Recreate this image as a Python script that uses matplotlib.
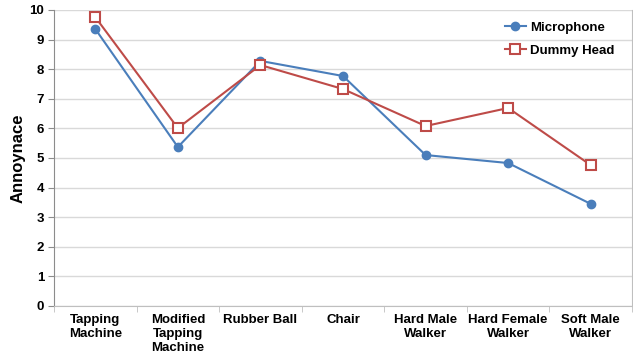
import matplotlib
matplotlib.use("Agg")
import matplotlib.pyplot as plt
import numpy as np

categories = ["Tapping\nMachine", "Modified\nTapping\nMachine", "Rubber Ball", "Chair",
              "Hard Male\nWalker", "Hard Female\nWalker", "Soft Male\nWalker"]
microphone = [9.36, 5.37, 8.28, 7.77, 5.10, 4.83, 3.45]
dummy_head = [9.76, 6.01, 8.14, 7.33, 6.08, 6.69, 4.76]
y_ticks = list(range(0, 11))

plt.rcParams["font.family"] = ["Liberation Sans", "DejaVu Sans"]
plt.rcParams["font.weight"] = "bold"

fig = plt.figure(figsize=(6.33, 3.54), dpi=100)
ax = fig.add_axes([54 / 633, 48 / 354, 578 / 633, 296 / 354])

x = np.arange(len(categories))
ax.plot(x, microphone, color="#4A7EBB", lw=1.5, marker="o", ms=6,
        mfc="#4A7EBB", mec="#4A7EBB", label="Microphone", zorder=3)
ax.plot(x, dummy_head, color="#BE4B48", lw=1.5, marker="s", ms=7.5,
        mfc="white", mec="#BE4B48", mew=1.5, label="Dummy Head", zorder=3)

ax.set_xlim(-0.5, len(categories) - 0.5)
ax.set_ylim(0, 10)
ax.set_yticks(y_ticks)
ax.set_xticks(x)
ax.set_xticklabels(categories, fontsize=9.5, fontweight="bold", linespacing=1.2)
ax.set_xticks(np.arange(-0.5, len(categories), 1), minor=True)
ax.tick_params(axis="x", which="major", length=0, pad=6)
ax.tick_params(axis="x", which="minor", length=4, color="#BFBFBF", direction="out")
ax.tick_params(axis="y", length=4, color="#8C8C8C", labelsize=9.5, pad=3)
for lbl in ax.get_yticklabels():
    lbl.set_fontweight("bold")

ax.grid(axis="y", color="#D9D9D9", lw=1)
ax.set_axisbelow(True)
ax.spines["top"].set_visible(False)
ax.spines["left"].set_color("#8C8C8C")
ax.spines["bottom"].set_color("#BFBFBF")
ax.spines["right"].set_color("#BFBFBF")

ax.set_ylabel("Annoynace", fontsize=12, fontweight="bold", labelpad=3)

leg = ax.legend(loc="upper right", bbox_to_anchor=(0.99, 1.0), frameon=False,
                fontsize=9.5, handlelength=1.6, handletextpad=0.3, labelspacing=0.8)
for t in leg.get_texts():
    t.set_fontweight("bold")

fig.savefig("out.png", dpi=100)
